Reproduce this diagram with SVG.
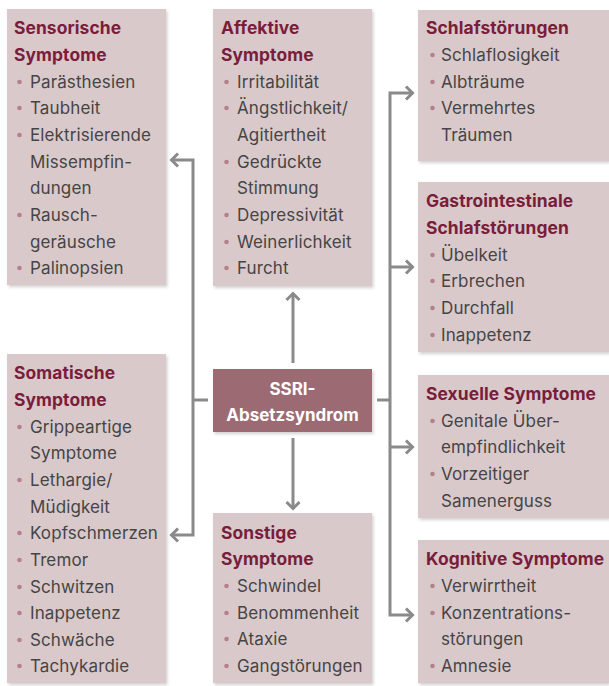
<svg xmlns="http://www.w3.org/2000/svg" width="609" height="686" viewBox="0 0 609 686">
<defs>
<filter id="sh" x="-5%" y="-5%" width="115%" height="115%">
<feDropShadow dx="1.5" dy="2" stdDeviation="1.5" flood-color="#000" flood-opacity="0.18"/>
</filter>
<marker id="ar" markerUnits="userSpaceOnUse" markerWidth="16" markerHeight="16" viewBox="0 0 16 16" refX="11" refY="8" orient="auto-start-reverse">
<path d="M4,1.5 L10.5,8 L4,14.5" fill="none" stroke="#8a8a8a" stroke-width="3"/>
</marker>
</defs>
<style>
.box{fill:#d9c9cb;filter:url(#sh)}
.t{font-family:Inter,"Liberation Sans",sans-serif;font-size:17.4px;font-weight:700;fill:#7a1d3b;letter-spacing:0.1px}
.i{font-family:Inter,"Liberation Sans",sans-serif;font-size:17px;fill:#454545;letter-spacing:0.12px}
.b{fill:#b58089}
.c{fill:none;stroke:#8a8a8a;stroke-width:3}
.ct{font-family:Inter,"Liberation Sans",sans-serif;font-size:17px;font-weight:700;fill:#ffffff}
</style>
<g id="connectors">
<path class="c" d="M171,160 H193 V535 H171" marker-start="url(#ar)" marker-end="url(#ar)"/>
<path class="c" d="M208,400 H193"/>
<path class="c" d="M413,93 H390 V615 H413" marker-start="url(#ar)" marker-end="url(#ar)"/>
<path class="c" d="M390,267 H413" marker-end="url(#ar)"/>
<path class="c" d="M390,447 H413" marker-end="url(#ar)"/>
<path class="c" d="M377,400 H390"/>
<path class="c" d="M293,363 V293" marker-end="url(#ar)"/>
<path class="c" d="M293,438 V509" marker-end="url(#ar)"/>
</g>
<g id="center">
<rect x="213" y="369" width="159" height="63" fill="#9c6b73" filter="url(#sh)"/>
<text class="ct" x="292.5" y="395" text-anchor="middle">SSRI-</text>
<text class="ct" x="292.5" y="421" text-anchor="middle">Absetzsyndrom</text>
</g>
<g id="sensorisch">
<rect class="box" x="7" y="9" width="159" height="276"/>
<text class="t" x="14" y="34">Sensorische</text>
<text class="t" x="14" y="61">Symptome</text>
<circle class="b" cx="19.5" cy="82" r="2.3"/><text class="i" x="30" y="88">Parästhesien</text>
<circle class="b" cx="19.5" cy="108" r="2.3"/><text class="i" x="30" y="114">Taubheit</text>
<circle class="b" cx="19.5" cy="135" r="2.3"/><text class="i" x="30" y="141">Elektrisierende</text>
<text class="i" x="30" y="168">Missempfin-</text>
<text class="i" x="30" y="194">dungen</text>
<circle class="b" cx="19.5" cy="215" r="2.3"/><text class="i" x="30" y="221">Rausch-</text>
<text class="i" x="30" y="248">geräusche</text>
<circle class="b" cx="19.5" cy="268" r="2.3"/><text class="i" x="30" y="274">Palinopsien</text>
</g>
<g id="affektiv">
<rect class="box" x="213" y="9" width="159" height="277"/>
<text class="t" x="221" y="34">Affektive</text>
<text class="t" x="221" y="61">Symptome</text>
<circle class="b" cx="226.5" cy="82" r="2.3"/><text class="i" x="237" y="88">Irritabilität</text>
<circle class="b" cx="226.5" cy="108" r="2.3"/><text class="i" x="237" y="114">Ängstlichkeit/</text>
<text class="i" x="237" y="141">Agitiertheit</text>
<circle class="b" cx="226.5" cy="162" r="2.3"/><text class="i" x="237" y="168">Gedrückte</text>
<text class="i" x="237" y="194">Stimmung</text>
<circle class="b" cx="226.5" cy="215" r="2.3"/><text class="i" x="237" y="221">Depressivität</text>
<circle class="b" cx="226.5" cy="242" r="2.3"/><text class="i" x="237" y="248">Weinerlichkeit</text>
<circle class="b" cx="226.5" cy="268" r="2.3"/><text class="i" x="237" y="274">Furcht</text>
</g>
<g id="schlaf">
<rect class="box" x="418" y="10" width="191" height="151"/>
<text class="t" x="426" y="34">Schlafstörungen</text>
<circle class="b" cx="432.5" cy="55" r="2.3"/><text class="i" x="441" y="61">Schlaflosigkeit</text>
<circle class="b" cx="432.5" cy="82" r="2.3"/><text class="i" x="441" y="88">Albträume</text>
<circle class="b" cx="432.5" cy="108" r="2.3"/><text class="i" x="441" y="114">Vermehrtes</text>
<text class="i" x="441" y="141">Träumen</text>
</g>
<g id="gastro">
<rect class="box" x="418" y="182" width="191" height="170"/>
<text class="t" x="426" y="207">Gastrointestinale</text>
<text class="t" x="426" y="234">Schlafstörungen</text>
<circle class="b" cx="432.5" cy="255" r="2.3"/><text class="i" x="441" y="261">Übelkeit</text>
<circle class="b" cx="432.5" cy="281" r="2.3"/><text class="i" x="441" y="287">Erbrechen</text>
<circle class="b" cx="432.5" cy="308" r="2.3"/><text class="i" x="441" y="314">Durchfall</text>
<circle class="b" cx="432.5" cy="335" r="2.3"/><text class="i" x="441" y="341">Inappetenz</text>
</g>
<g id="sexuell">
<rect class="box" x="418" y="375" width="191" height="143"/>
<text class="t" x="426" y="400">Sexuelle Symptome</text>
<circle class="b" cx="432.5" cy="421" r="2.3"/><text class="i" x="441" y="427">Genitale Über-</text>
<text class="i" x="441" y="453">empfindlichkeit</text>
<circle class="b" cx="432.5" cy="474" r="2.3"/><text class="i" x="441" y="480">Vorzeitiger</text>
<text class="i" x="441" y="507">Samenerguss</text>
</g>
<g id="kognitiv">
<rect class="box" x="418" y="540" width="191" height="143"/>
<text class="t" x="426" y="565">Kognitive Symptome</text>
<circle class="b" cx="432.5" cy="586" r="2.3"/><text class="i" x="441" y="592">Verwirrtheit</text>
<circle class="b" cx="432.5" cy="613" r="2.3"/><text class="i" x="441" y="619">Konzentrations-</text>
<text class="i" x="441" y="645">störungen</text>
<circle class="b" cx="432.5" cy="666" r="2.3"/><text class="i" x="441" y="672">Amnesie</text>
</g>
<g id="somatisch">
<rect class="box" x="7" y="354" width="159" height="329"/>
<text class="t" x="14" y="379">Somatische</text>
<text class="t" x="14" y="406">Symptome</text>
<circle class="b" cx="19.5" cy="427" r="2.3"/><text class="i" x="30" y="433">Grippeartige</text>
<text class="i" x="30" y="459">Symptome</text>
<circle class="b" cx="19.5" cy="480" r="2.3"/><text class="i" x="30" y="486">Lethargie/</text>
<text class="i" x="30" y="513">Müdigkeit</text>
<circle class="b" cx="19.5" cy="533" r="2.3"/><text class="i" x="30" y="539">Kopfschmerzen</text>
<circle class="b" cx="19.5" cy="560" r="2.3"/><text class="i" x="30" y="566">Tremor</text>
<circle class="b" cx="19.5" cy="587" r="2.3"/><text class="i" x="30" y="593">Schwitzen</text>
<circle class="b" cx="19.5" cy="613" r="2.3"/><text class="i" x="30" y="619">Inappetenz</text>
<circle class="b" cx="19.5" cy="640" r="2.3"/><text class="i" x="30" y="646">Schwäche</text>
<circle class="b" cx="19.5" cy="666" r="2.3"/><text class="i" x="30" y="672">Tachykardie</text>
</g>
<g id="sonstige">
<rect class="box" x="213" y="513" width="159" height="170"/>
<text class="t" x="221" y="539">Sonstige</text>
<text class="t" x="221" y="565">Symptome</text>
<circle class="b" cx="226.5" cy="586" r="2.3"/><text class="i" x="237" y="592">Schwindel</text>
<circle class="b" cx="226.5" cy="613" r="2.3"/><text class="i" x="237" y="619">Benommenheit</text>
<circle class="b" cx="226.5" cy="639" r="2.3"/><text class="i" x="237" y="645">Ataxie</text>
<circle class="b" cx="226.5" cy="666" r="2.3"/><text class="i" x="237" y="672">Gangstörungen</text>
</g>
</svg>
